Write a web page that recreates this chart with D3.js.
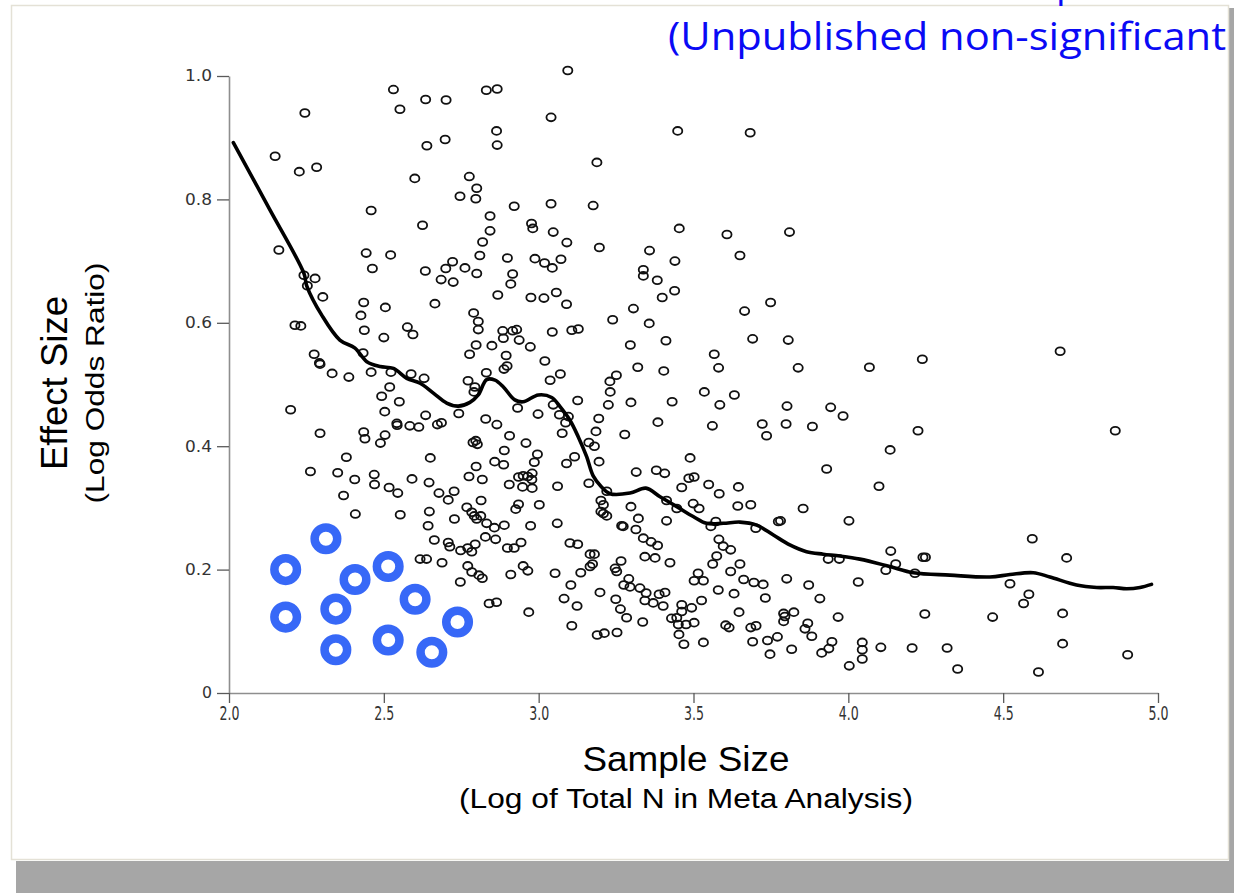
<!DOCTYPE html>
<html>
<head>
<meta charset="utf-8">
<script src="https://cdn.jsdelivr.net/npm/d3@7"></script>
<style>
  html, body { margin: 0; padding: 0; background: #ffffff; }
  svg { display: block; }
</style>
</head>
<body>
<svg id="chart" width="1234" height="893"></svg>
<script>
// Axis tick values
const xTicks = [2.0, 2.5, 3.0, 3.5, 4.0, 4.5, 5.0];
const yTicks = [0, 0.2, 0.4, 0.6, 0.8, 1.0];

// Published meta-analyses: [log10 total N, log odds ratio]
const studies = [
  [2.531,0.978],[2.635,0.962],[2.701,0.961],[2.552,0.946],[2.831,0.977],[2.866,0.979],[2.245,0.940],[2.864,0.911],
  [2.866,0.888],[2.639,0.887],[2.698,0.897],[2.149,0.870],[2.227,0.845],[2.283,0.852],[2.600,0.834],[2.776,0.837],
  [2.800,0.818],[2.746,0.805],[2.797,0.801],[2.921,0.789],[2.459,0.782],[2.625,0.758],[2.843,0.773],[2.977,0.761],
  [2.981,0.753],[2.843,0.749],[2.819,0.731],[2.161,0.718],[2.443,0.713],[2.522,0.710],[2.810,0.709],[2.899,0.705],
  [2.988,0.704],[2.463,0.688],[2.722,0.699],[2.700,0.688],[2.762,0.689],[2.634,0.684],
  [3.094,1.009],[3.040,0.933],[3.449,0.911],[3.683,0.908],[3.188,0.860],[3.040,0.793],[3.176,0.790],[3.047,0.747],
  [3.091,0.730],[3.196,0.722],[3.358,0.717],[3.454,0.753],[3.608,0.743],[3.810,0.747],[3.650,0.709],[3.440,0.700],
  [3.072,0.703],[3.019,0.697],[3.044,0.689],[3.338,0.686],
  [2.242,0.677],[2.278,0.672],[2.253,0.660],[2.303,0.642],[2.685,0.670],[2.724,0.666],[2.800,0.680],[2.916,0.679],
  [2.910,0.663],[2.868,0.645],[2.975,0.641],[3.017,0.640],[2.435,0.633],[2.505,0.625],[2.665,0.631],[2.426,0.612],
  [2.790,0.616],[2.805,0.602],[2.805,0.589],[2.213,0.596],[2.232,0.595],[2.437,0.588],[2.576,0.593],[2.594,0.581],
  [2.500,0.576],[2.884,0.587],[2.916,0.587],[2.929,0.589],[2.886,0.575],[2.937,0.572],[2.973,0.561],[2.798,0.564],
  [2.849,0.563],[2.777,0.549],[2.895,0.547],[2.898,0.530],[2.888,0.525],[2.275,0.549],[2.292,0.535],[2.294,0.533],
  [2.433,0.551],[2.333,0.518],[2.387,0.512],[2.459,0.520],[2.523,0.520],[2.588,0.517],[2.630,0.510],[2.831,0.519],
  [2.772,0.506],[2.794,0.496],[2.791,0.488],[2.519,0.496],[2.493,0.481],[2.550,0.472],[2.199,0.459],[2.503,0.456],
  [2.742,0.453],[2.932,0.462],[2.998,0.452],[2.635,0.450],[2.542,0.437],[2.543,0.434],[2.584,0.433],[2.613,0.431],
  [2.673,0.435],[2.686,0.438],[2.829,0.444],[2.865,0.435],[2.294,0.421],[2.435,0.423],[2.439,0.412],[2.504,0.418],
  [2.489,0.405],[2.788,0.406],[2.797,0.409],[2.802,0.403],[2.906,0.417],[2.959,0.405],[2.889,0.393],[2.996,0.387],
  [2.986,0.374],[2.379,0.382],[2.650,0.381],[2.798,0.367],[2.858,0.375],[2.887,0.370],[2.263,0.359],[2.351,0.357],
  [2.406,0.346],[2.469,0.354],[2.470,0.338],[2.591,0.347],[2.646,0.341],[2.775,0.351],[2.818,0.346],[2.905,0.338],
  [2.935,0.350],[2.950,0.352],[2.965,0.351],[2.979,0.356],[2.978,0.346],
  [2.517,0.333],[2.545,0.324],[2.678,0.324],[2.727,0.327],[2.708,0.313],[2.814,0.312],[2.948,0.334],[2.979,0.332],
  [2.370,0.320],[2.408,0.290],[2.553,0.289],[2.647,0.294],[2.728,0.282],[2.768,0.301],[2.784,0.293],[2.792,0.287],
  [2.813,0.287],[2.800,0.282],[2.832,0.275],[2.857,0.268],[2.889,0.272],[2.935,0.306],[2.926,0.298],[3.002,0.305],
  [2.974,0.271],[2.643,0.271],[2.663,0.248],[2.708,0.244],[2.713,0.237],[2.748,0.231],[2.771,0.235],[2.784,0.229],
  [2.795,0.241],[2.828,0.253],[2.861,0.249],[2.899,0.235],[2.921,0.235],[2.943,0.244],[2.617,0.217],[2.638,0.217],
  [2.688,0.211],[2.771,0.206],[2.784,0.196],[2.807,0.191],[2.818,0.186],[2.747,0.180],[2.910,0.192],[2.950,0.206],
  [2.965,0.198],[2.840,0.145],[2.864,0.147],[2.968,0.131],
  [3.338,0.676],[3.383,0.669],[3.439,0.652],[3.399,0.641],[3.057,0.649],[3.090,0.630],[3.306,0.623],[3.239,0.605],
  [3.357,0.599],[3.044,0.585],[3.107,0.588],[3.128,0.590],[3.665,0.619],[3.749,0.633],[3.691,0.574],[3.806,0.572],
  [3.296,0.564],[3.411,0.571],[3.567,0.549],[3.581,0.527],[3.838,0.527],[3.020,0.538],[3.070,0.517],[3.037,0.507],
  [3.251,0.515],[3.230,0.505],[3.320,0.528],[3.404,0.522],[3.231,0.488],[3.225,0.467],[3.298,0.471],[3.431,0.472],
  [3.126,0.474],[3.535,0.488],[3.632,0.483],[3.585,0.467],[3.802,0.465],[3.943,0.463],[3.983,0.449],[3.047,0.467],
  [3.067,0.451],[3.096,0.448],[3.087,0.438],[3.076,0.421],[3.194,0.445],[3.185,0.424],[3.278,0.419],[3.385,0.439],
  [3.561,0.433],[3.722,0.436],[3.736,0.417],[3.799,0.436],[3.884,0.432],[3.162,0.406],[3.180,0.400],[3.116,0.383],
  [3.090,0.372],[3.195,0.375],[3.489,0.381],[3.315,0.358],[3.380,0.361],[3.407,0.356],[3.485,0.348],[3.502,0.350],
  [3.549,0.338],[3.930,0.363],[3.162,0.340],
  [3.061,0.335],[3.220,0.327],[3.462,0.333],[3.583,0.323],[3.645,0.334],[3.201,0.312],[3.209,0.305],[3.201,0.294],
  [3.209,0.291],[3.220,0.287],[3.298,0.302],[3.322,0.283],[3.413,0.312],[3.446,0.299],[3.499,0.307],[3.518,0.299],
  [3.413,0.279],[3.643,0.303],[3.685,0.305],[3.854,0.299],[3.774,0.278],[3.781,0.279],[4.002,0.279],[3.060,0.275],
  [3.268,0.271],[3.273,0.270],[3.314,0.265],[3.556,0.270],[3.572,0.278],[3.701,0.267],[3.101,0.243],[3.126,0.241],
  [3.338,0.251],[3.363,0.245],[3.384,0.239],[3.343,0.221],[3.376,0.219],[3.424,0.211],[3.166,0.225],[3.180,0.225],
  [3.166,0.205],[3.174,0.209],[3.266,0.214],[3.247,0.202],[3.252,0.197],[3.582,0.249],[3.596,0.238],[3.620,0.232],
  [3.575,0.222],[3.562,0.209],[3.620,0.197],[3.650,0.209],[3.935,0.217],[3.971,0.217],[3.053,0.194],[3.136,0.195],
  [3.104,0.175],[3.291,0.185],[3.275,0.175],[3.295,0.172],[3.327,0.170],[3.347,0.162],[3.389,0.160],[3.408,0.163],
  [3.343,0.150],[3.370,0.146],[3.402,0.141],[3.515,0.194],[3.502,0.182],[3.532,0.182],[3.580,0.167],[3.631,0.161],
  [3.662,0.184],[3.695,0.179],[3.725,0.176],[3.801,0.185],[3.872,0.175],[3.732,0.154],[3.908,0.153],[3.082,0.153],
  [3.198,0.163],[3.124,0.141],[3.249,0.152],[3.264,0.136],[3.284,0.122],[3.462,0.143],[3.494,0.138],[3.462,0.132],
  [3.429,0.121],[3.446,0.122],[3.451,0.111],[3.476,0.111],[3.502,0.114],[3.526,0.150],[3.647,0.131],[3.791,0.129],
  [3.795,0.124],[3.791,0.116],[3.824,0.131],[3.967,0.123],[3.107,0.109],[3.336,0.115],[3.604,0.110],[3.615,0.106],
  [3.685,0.106],[3.702,0.109],[3.869,0.113],[3.860,0.104],[3.882,0.092],[3.189,0.094],[3.212,0.097],[3.253,0.098],
  [3.453,0.095],[3.469,0.079],[3.532,0.082],[3.691,0.083],[3.739,0.085],[3.771,0.091],[3.747,0.063],[3.817,0.071],
  [3.947,0.083],[3.937,0.072],[3.914,0.065],[4.003,0.044],
  [4.068,0.528],[4.239,0.541],[4.684,0.554],[4.225,0.425],[4.135,0.394],[4.862,0.425],
  [4.099,0.335],[4.137,0.230],[4.153,0.209],[4.121,0.199],[4.215,0.194],[4.241,0.220],[4.249,0.220],[4.032,0.180],
  [4.247,0.128],[4.466,0.123],[4.522,0.177],[4.583,0.160],[4.566,0.145],[4.594,0.250],[4.705,0.219],[4.692,0.129],
  [4.045,0.082],[4.045,0.070],[4.045,0.055],[4.105,0.074],[4.206,0.073],[4.319,0.073],[4.353,0.039],[4.614,0.034],
  [4.692,0.080],[4.902,0.062]
];

// Small, non-significant studies that never get published
const missingStudies = [
  [2.313,0.250],[2.183,0.200],[2.407,0.184],[2.514,0.205],[2.601,0.152],[2.345,0.136],
  [2.183,0.123],[2.345,0.070],[2.514,0.086],[2.655,0.066],[2.738,0.115]
];

// Smoothed trend of effect size against sample size
const loessFit = [
  [2.014,0.892],[2.130,0.785],[2.242,0.680],[2.251,0.660],[2.300,0.612],[2.358,0.572],[2.407,0.559],[2.445,0.537],
  [2.488,0.529],[2.531,0.526],[2.574,0.510],[2.617,0.502],[2.660,0.486],[2.703,0.470],[2.740,0.465],[2.778,0.471],
  [2.805,0.483],[2.832,0.508],[2.859,0.507],[2.886,0.496],[2.923,0.475],[2.950,0.472],[2.999,0.483],[3.042,0.479],
  [3.069,0.464],[3.101,0.442],[3.128,0.415],[3.155,0.383],[3.176,0.352],[3.203,0.334],[3.230,0.323],[3.295,0.324],
  [3.346,0.332],[3.392,0.318],[3.446,0.302],[3.499,0.286],[3.542,0.275],[3.596,0.275],[3.650,0.277],[3.704,0.272],
  [3.758,0.256],[3.811,0.240],[3.865,0.229],[3.919,0.225],[3.973,0.222],[4.037,0.217],[4.134,0.205],[4.210,0.195],
  [4.328,0.191],[4.457,0.188],[4.522,0.192],[4.597,0.195],[4.651,0.188],[4.737,0.175],[4.802,0.171],[4.855,0.171],
  [4.899,0.169],[4.942,0.171],[4.979,0.176]
];

const svg = d3.select('#chart');
const W = 1234, H = 893;

// Slide panel with drop shadow
svg.append('rect').attr('x', 16).attr('y', 861).attr('width', W - 16).attr('height', H - 861).attr('fill', '#a6a6a6');
svg.append('rect').attr('x', 1229).attr('y', 8).attr('width', W - 1229).attr('height', H - 8).attr('fill', '#a6a6a6');
svg.append('rect').attr('x', 11.5).attr('y', 5.5).attr('width', 1217).attr('height', 854)
  .attr('fill', '#ffffff').attr('stroke', '#e4e1d6').attr('stroke-width', 1.5);

svg.append('defs').append('clipPath').attr('id', 'panelClip')
  .append('rect').attr('x', 0).attr('y', 6).attr('width', 1228).attr('height', 850);

// Heading lines at top right, running past the panel edge
const heading = svg.append('g').attr('clip-path', 'url(#panelClip)');
heading.append('text')
  .attr('x', 668).attr('y', 50)
  .attr('font-family', 'Open Sans, Noto Sans, sans-serif')
  .attr('font-size', 38)
  .attr('fill', '#0a0af5')
  .attr('textLength', 558).attr('lengthAdjust', 'spacingAndGlyphs')
  .text('(Unpublished non-significant');
svg.append('text')
  .attr('x', 1056).attr('y', -3)
  .attr('font-family', 'Open Sans, Noto Sans, sans-serif')
  .attr('font-size', 38)
  .attr('fill', '#0a0af5')
  .text('p');

// Scales
const x = d3.scaleLinear().domain([2, 5]).range([229, 1158]);
const y = d3.scaleLinear().domain([0, 1]).range([693, 76]);

// Axes
const yAxis = svg.append('g').attr('transform', `translate(${x(2)},0)`)
  .call(d3.axisLeft(y).tickValues(yTicks).tickSize(12).tickSizeOuter(0).tickPadding(5)
    .tickFormat(d => d === 0 ? '0' : d3.format('.1f')(d)));
const xAxis = svg.append('g').attr('transform', `translate(0,${y(0)})`)
  .call(d3.axisBottom(x).tickValues(xTicks).tickSize(10).tickSizeOuter(0).tickPadding(4)
    .tickFormat(d3.format('.1f')));

[yAxis, xAxis].forEach(g => {
  g.select('.domain').attr('stroke', '#8e8e8e').attr('stroke-width', 1.6);
  g.selectAll('.tick line').attr('stroke', '#5a5a5a').attr('stroke-width', 1.3);
  g.selectAll('.tick text').attr('fill', '#333').attr('font-family', 'DejaVu Sans, sans-serif');
});
yAxis.selectAll('.tick text').attr('font-size', 15)
  .attr('textLength', d => d === 0 ? 10 : 27).attr('lengthAdjust', 'spacingAndGlyphs');
xAxis.selectAll('.tick text').attr('font-size', 19)
  .attr('textLength', 20).attr('lengthAdjust', 'spacingAndGlyphs');

// Study points
svg.append('g').selectAll('ellipse').data(studies).join('ellipse')
  .attr('cx', d => x(d[0])).attr('cy', d => y(d[1]))
  .attr('rx', 4.6).attr('ry', 3.9)
  .attr('fill', 'none').attr('stroke', '#111').attr('stroke-width', 1.8);

// Trend line
svg.append('path').datum(loessFit)
  .attr('d', d3.line().x(d => x(d[0])).y(d => y(d[1])).curve(d3.curveCatmullRom.alpha(0.5)))
  .attr('fill', 'none').attr('stroke', '#000').attr('stroke-width', 3.6)
  .attr('stroke-linejoin', 'round').attr('stroke-linecap', 'round');

// Missing studies
svg.append('g').selectAll('circle').data(missingStudies).join('circle')
  .attr('cx', d => x(d[0])).attr('cy', d => y(d[1]))
  .attr('r', 11.3)
  .attr('fill', 'none').attr('stroke', '#3768f7').attr('stroke-width', 8.5);

// Axis titles
svg.append('text')
  .attr('x', 686).attr('y', 771).attr('text-anchor', 'middle')
  .attr('font-family', 'Liberation Sans, Arial, sans-serif').attr('font-size', 35).attr('fill', '#000')
  .attr('textLength', 207).attr('lengthAdjust', 'spacingAndGlyphs')
  .text('Sample Size');
svg.append('text')
  .attr('x', 686).attr('y', 808).attr('text-anchor', 'middle')
  .attr('font-family', 'Liberation Sans, Arial, sans-serif').attr('font-size', 27).attr('fill', '#000')
  .attr('textLength', 454).attr('lengthAdjust', 'spacingAndGlyphs')
  .text('(Log of Total N in Meta Analysis)');
svg.append('text')
  .attr('transform', 'translate(67,383) rotate(-90)').attr('text-anchor', 'middle')
  .attr('font-family', 'Liberation Sans, Arial, sans-serif').attr('font-size', 36).attr('fill', '#000')
  .attr('textLength', 174).attr('lengthAdjust', 'spacingAndGlyphs')
  .text('Effect Size');
svg.append('text')
  .attr('transform', 'translate(104,383) rotate(-90)').attr('text-anchor', 'middle')
  .attr('font-family', 'Liberation Sans, Arial, sans-serif').attr('font-size', 25).attr('fill', '#000')
  .attr('textLength', 241).attr('lengthAdjust', 'spacingAndGlyphs')
  .text('(Log Odds Ratio)');
</script>
</body>
</html>
